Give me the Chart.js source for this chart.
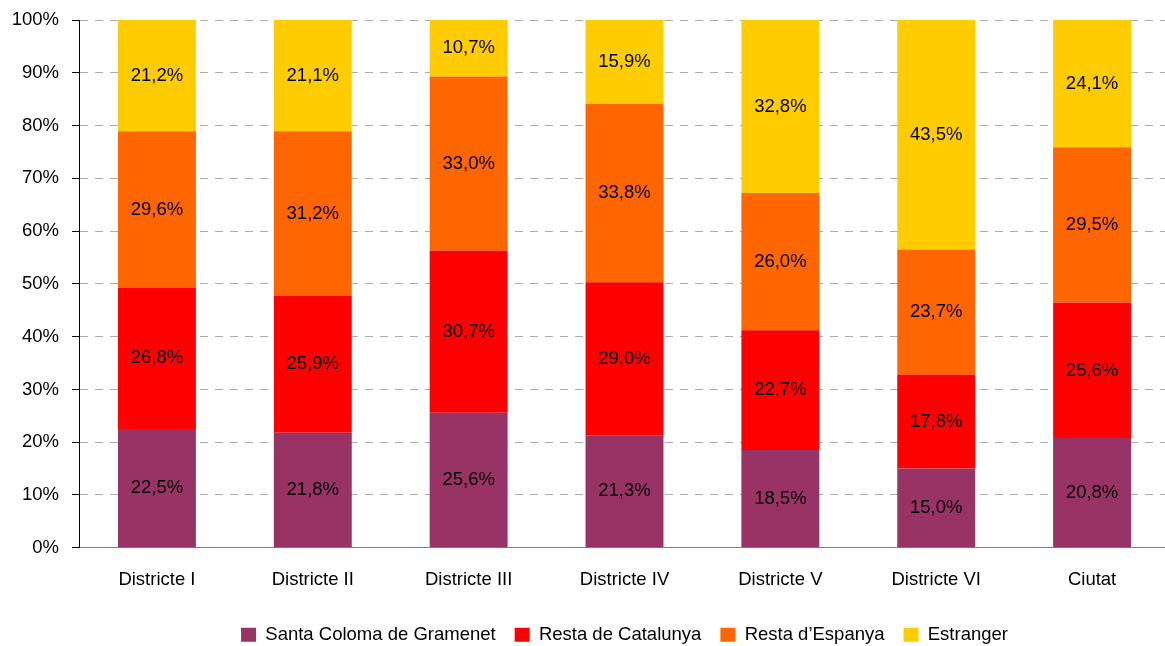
<!DOCTYPE html>
<html>
<head>
<meta charset="utf-8">
<script src="https://cdn.jsdelivr.net/npm/chart.js@4/dist/chart.umd.min.js"></script>
<style>
  html, body { margin: 0; padding: 0; overflow: hidden; background: #fff; }
  #wrap { width: 1165px; height: 646px; overflow: hidden; position: relative; }
  canvas { display: block; }
</style>
</head>
<body>
<div id="wrap"><canvas id="c" width="1170" height="654"></canvas></div>
<script>
const categories = ["Districte I", "Districte II", "Districte III", "Districte IV", "Districte V", "Districte VI", "Ciutat"];
const seriesNames = ["Santa Coloma de Gramenet", "Resta de Catalunya", "Resta d\u2019Espanya", "Estranger"];
const santaColoma = [22.5, 21.8, 25.6, 21.3, 18.5, 15.0, 20.8];
const restaCatalunya = [26.8, 25.9, 30.7, 29.0, 22.7, 17.8, 25.6];
const restaEspanya = [29.6, 31.2, 33.0, 33.8, 26.0, 23.7, 29.5];
const estranger = [21.2, 21.1, 10.7, 15.9, 32.8, 43.5, 24.1];
const yTicks = [0, 10, 20, 30, 40, 50, 60, 70, 80, 90, 100];

const colors = ["#993366", "#FF0000", "#FF6600", "#FFCC00"];
const FONT = "'Liberation Sans', Arial, sans-serif";
const FS = 18.5;

const fmt = v => v.toFixed(1).replace('.', ',') + '%';

const labelPlugin = {
  id: 'barLabels',
  afterDatasetsDraw(chart) {
    const ctx = chart.ctx;
    ctx.save();
    ctx.font = FS + 'px ' + FONT;
    ctx.fillStyle = '#000';
    ctx.textAlign = 'center';
    ctx.textBaseline = 'middle';
    chart.data.datasets.forEach((ds, di) => {
      const meta = chart.getDatasetMeta(di);
      meta.data.forEach((el, i) => {
        const y = (el.y + el.base) / 2;
        ctx.fillText(fmt(ds.data[i]), el.x, y);
      });
    });
    ctx.restore();
  }
};

const allSeries = [santaColoma, restaCatalunya, restaEspanya, estranger];

new Chart(document.getElementById('c'), {
  type: 'bar',
  data: {
    labels: categories,
    datasets: allSeries.map((d, i) => ({
      label: seriesNames[i],
      data: d,
      backgroundColor: colors[i],
      borderWidth: 0,
      barPercentage: 0.5,
      categoryPercentage: 1.0
    }))
  },
  options: {
    responsive: false,
    animation: false,
    devicePixelRatio: 1,
    layout: { padding: { top: 20, right: 0, bottom: 0, left: 0 } },
    plugins: {
      legend: {
        position: 'bottom',
        fullSize: false,
        labels: {
          boxWidth: 15,
          boxHeight: 14,
          padding: 19,
          color: '#000',
          font: { family: FONT, size: FS }
        }
      },
      tooltip: { enabled: false }
    },
    scales: {
      x: {
        stacked: true,
        grid: { display: false, drawTicks: false },
        border: { display: true, color: '#808080', width: 1 },
        ticks: { color: '#000', padding: 21, font: { family: FONT, size: FS }, maxRotation: 0 },
        afterFit(s) { s.height = 58.75; }
      },
      y: {
        stacked: true,
        min: 0,
        max: 100,
        afterBuildTicks(s) { s.ticks = yTicks.map(v => ({ value: v })); },
        grid: {
          color: '#ABABAB',
          lineWidth: 1,
          tickLength: 7,
          tickColor: '#000',
          tickBorderDash: [],
          tickWidth: 1
        },
        border: { display: true, color: '#000', width: 1, dash: [8, 7] },
        ticks: {
          color: '#000',
          padding: 13,
          font: { family: FONT, size: FS },
          callback: v => v + '%'
        },
        afterFit(s) { s.width = 79; s.paddingTop = 0; s.paddingBottom = 0; }
      }
    }
  },
  plugins: [labelPlugin]
});
</script>
</body>
</html>
